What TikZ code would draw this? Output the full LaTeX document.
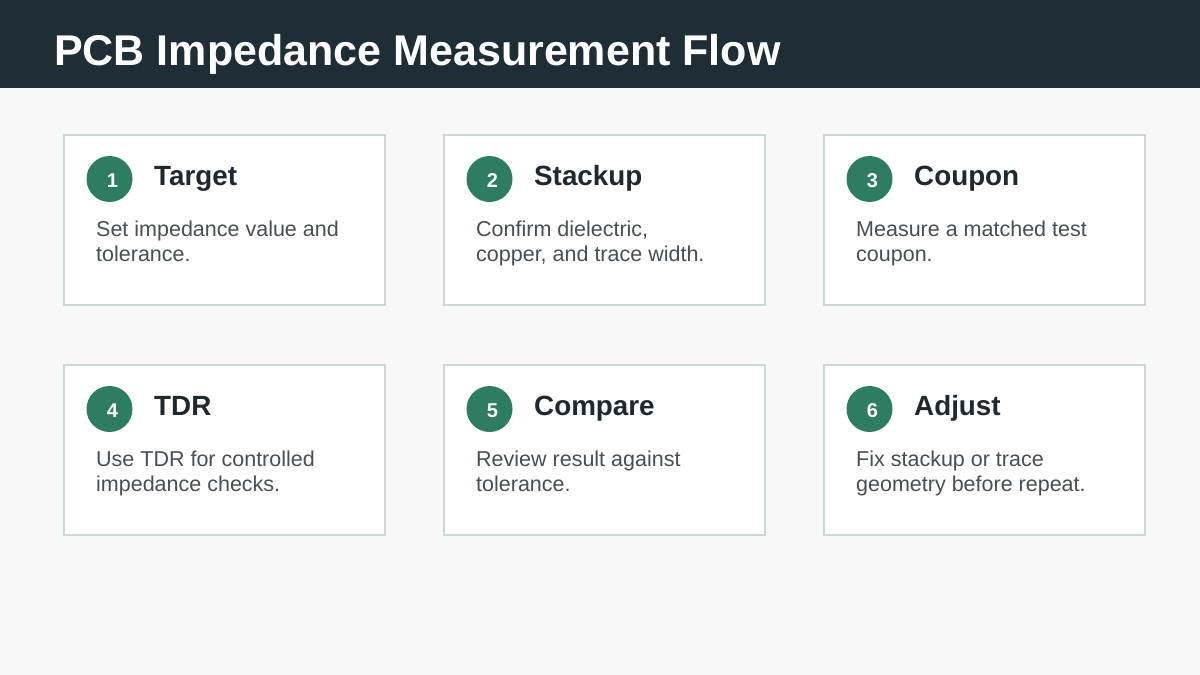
\documentclass[tikz,border=0pt]{standalone}
\usepackage{fontspec}
\setmainfont{Liberation Sans}
\definecolor{bgc}{RGB}{248,248,248}
\definecolor{headc}{RGB}{31,45,53}
\definecolor{cardline}{RGB}{204,216,212}
\definecolor{stepgreen}{RGB}{46,125,98}
\definecolor{titlec}{RGB}{30,40,46}
\definecolor{bodyc}{RGB}{72,78,84}
\tikzset{
  card/.style={draw=cardline, line width=1.5pt, fill=white},
  numdot/.style={circle, fill=stepgreen, minimum size=46pt, inner sep=0pt},
  numtext/.style={inner sep=0pt, text=white, font=\bfseries\fontsize{20}{24}\selectfont},
  cardtitle/.style={anchor=base west, inner sep=0pt, text=titlec, font=\bfseries\fontsize{27.8}{32}\selectfont},
  cardbody/.style={anchor=base west, inner sep=0pt, text=bodyc, font=\fontsize{21.5}{25}\selectfont},
}
\begin{document}
\begin{tikzpicture}[x=1pt,y=-1pt]
\useasboundingbox (0,0) rectangle (1200,675);
\fill[bgc] (0,0) rectangle (1200,675);
\fill[headc] (0,0) rectangle (1200,88);
\node[anchor=base west, inner sep=0pt, text=white, font=\bfseries\fontsize{43}{50}\selectfont] (title) at (54,65) {PCB Impedance Measurement Flow};
\foreach \x/\y/\n/\t/\a/\b in {
  64/135/1/Target/{Set impedance value and}/{tolerance.},
  444/135/2/Stackup/{Confirm dielectric,}/{copper, and trace width.},
  824/135/3/Coupon/{Measure a matched test}/{coupon.},
  64/365/4/TDR/{Use TDR for controlled}/{impedance checks.},
  444/365/5/Compare/{Review result against}/{tolerance.},
  824/365/6/Adjust/{Fix stackup or trace}/{geometry before repeat.}}{
  \draw[card] (\x,\y) rectangle ++(321,170);
  \node[numdot] (num\n) at (\x+45.5,\y+44) {};
  \node[numtext] (numt\n) at (\x+48.5,\y+45.5) {\n};
  \node[cardtitle] (ttl\n) at (\x+90,\y+50) {\t};
  \node[cardbody] (bodyA\n) at (\x+32,\y+101) {\a};
  \node[cardbody] (bodyB\n) at (\x+32,\y+126) {\b};
}
\end{tikzpicture}
\end{document}
